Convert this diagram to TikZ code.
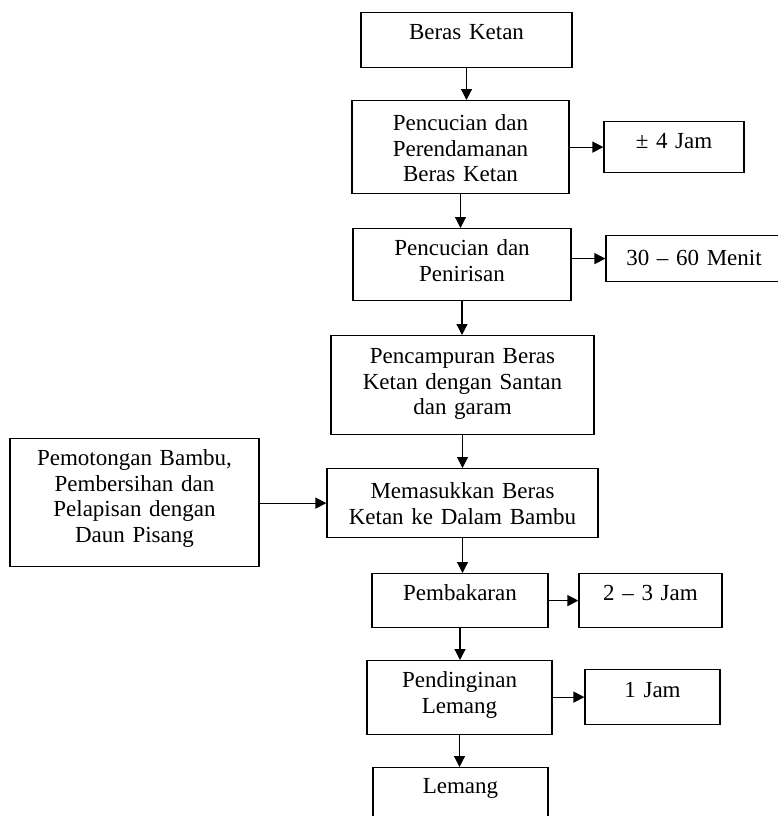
\documentclass[tikz,border=0pt]{standalone}
\usepackage{fontspec}
\setmainfont{Liberation Serif}
\usetikzlibrary{arrows.meta}

\begin{document}
\begin{tikzpicture}[x=1pt, y=-1pt,
    proc/.style={draw, line width=1.2pt, inner sep=0pt, align=center, anchor=north,
      font=\fontsize{23pt}{25.5pt}\selectfont},
    dims/.style n args={3}{text width=#1, text height=#2, text depth=#3},
    arr/.style={line width=1.2pt, -{Triangle[length=11pt, width=11pt]}}]
        \useasboundingbox (0, 0) rectangle (777, 816);
        % main column
        \node[proc, dims={211pt}{27pt}{28pt}] (beras) at (466.5, 12) {Beras Ketan};
        \node[proc, dims={217pt}{30pt}{63pt}] (rendam) at (460.5, 100) {Pencucian dan\\Perendamanan\\Beras Ketan};
        \node[proc, dims={218pt}{27pt}{45pt}] (tiris) at (462, 228) {Pencucian dan\\Penirisan};
        \node[proc, dims={263pt}{28pt}{71pt}] (campur) at (462.5, 335) {Pencampuran Beras\\Ketan dengan Santan\\dan garam};
        \node[proc, dims={271pt}{30pt}{39pt}] (masuk) at (462.5, 468) {Memasukkan Beras\\Ketan ke Dalam Bambu};
        \node[proc, dims={176pt}{27pt}{27pt}] (bakar) at (460, 573) {Pembakaran};
        \node[proc, dims={185pt}{27pt}{47pt}] (dingin) at (459.5, 660) {Pendinginan\\Lemang};
        \node[proc, dims={175pt}{26pt}{60pt}] (lemang) at (460.5, 767) {Lemang};
        % side boxes
        \node[proc, dims={140pt}{27pt}{24pt}] (jamA) at (674, 121) {± 4 Jam};
        \node[proc, dims={176pt}{30pt}{16pt}] (menit) at (694, 235) {30 -- 60 Menit};
        \node[proc, dims={143pt}{27pt}{27pt}] (jamB) at (650.5, 573) {2 -- 3 Jam};
        \node[proc, dims={135pt}{28pt}{27pt}] (jamC) at (652.5, 669) {1 Jam};
        \node[proc, dims={249pt}{27pt}{101pt}] (bambu) at (134.5, 438) {Pemotongan Bambu,\\Pembersihan dan\\Pelapisan dengan\\Daun Pisang};
        % arrows down
        \draw[arr] (beras.south) -- (beras.south |- rendam.north);
        \draw[arr] (rendam.south) -- (rendam.south |- tiris.north);
        \draw[arr] (tiris.south) -- (tiris.south |- campur.north);
        \draw[arr] (campur.south) -- (campur.south |- masuk.north);
        \draw[arr] (masuk.south) -- (masuk.south |- bakar.north);
        \draw[arr] (bakar.south) -- (bakar.south |- dingin.north);
        \draw[arr] (dingin.south) -- (dingin.south |- lemang.north);
        % arrows to the side
        \draw[arr] (rendam.east |- jamA.west) -- (jamA.west);
        \draw[arr] (tiris.east |- menit.west) -- (menit.west);
        \draw[arr] (bakar.east |- jamB.west) -- (jamB.west);
        \draw[arr] (dingin.east |- jamC.west) -- (jamC.west);
        \draw[arr] (bambu.east |- masuk.west) -- (masuk.west);
      \end{tikzpicture}
\end{document}
